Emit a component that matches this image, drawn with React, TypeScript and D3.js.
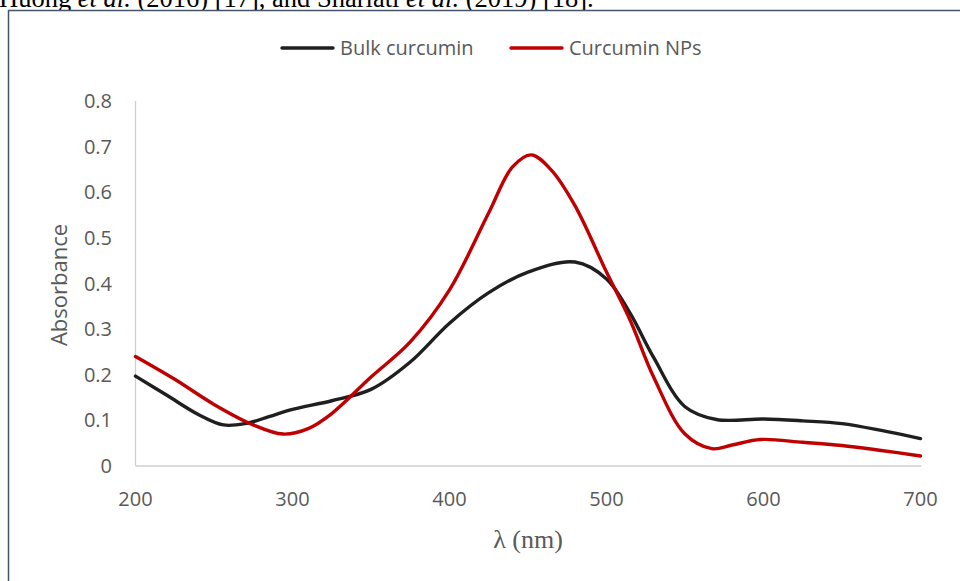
import React, { useEffect, useRef } from "react";
import * as d3 from "d3";

// wavelength (nm) / absorbance
const bulkNm = [200, 220, 240, 256, 270, 285, 300, 325, 350, 375, 400, 425, 450, 480, 500, 515, 530, 550, 570, 600, 625, 650, 675, 700];
const bulkAbs = [0.197, 0.155, 0.113, 0.09, 0.093, 0.108, 0.124, 0.143, 0.168, 0.228, 0.313, 0.38, 0.425, 0.447, 0.41, 0.335, 0.238, 0.13, 0.102, 0.103, 0.099, 0.093, 0.078, 0.06];

const npsNm = [200, 225, 250, 275, 294, 310, 325, 350, 375, 400, 425, 440, 452, 465, 480, 500, 515, 530, 550, 567, 580, 598, 625, 650, 675, 700];
const npsAbs = [0.24, 0.19, 0.135, 0.09, 0.07, 0.082, 0.115, 0.195, 0.272, 0.386, 0.555, 0.655, 0.682, 0.648, 0.57, 0.425, 0.32, 0.195, 0.07, 0.038, 0.046, 0.058, 0.052, 0.045, 0.034, 0.022];

const xTicks = [200, 300, 400, 500, 600, 700];
const yTicks = [0, 0.1, 0.2, 0.3, 0.4, 0.5, 0.6, 0.7, 0.8];

const seriesNames = ["Bulk curcumin", "Curcumin NPs"];
const seriesColors = ["#1f1f1f", "#c00000"];

const App = () => {
  const svgRef = useRef<SVGSVGElement>(null);

  useEffect(() => {
    const svg = d3.select(svgRef.current);
    svg.selectAll("*").remove();

    const x = d3.scaleLinear().domain([200, 700]).range([135.5, 920.5]);
    const y = d3.scaleLinear().domain([0, 0.8]).range([466, 101]);

    // caption line cut off above the figure
    svg.append("text")
      .attr("x", -1)
      .attr("y", 7)
      .attr("font-family", "Liberation Serif, serif")
      .attr("font-size", 26.5)
      .attr("fill", "#000")
      .html('Huong <tspan font-style="italic">et al.</tspan> (2016) [17], and Shariati <tspan font-style="italic">et al.</tspan> (2019) [18].');

    // frame
    svg.append("rect")
      .attr("x", 8.5)
      .attr("y", 10.5)
      .attr("width", 960)
      .attr("height", 600)
      .attr("fill", "#fff")
      .attr("stroke", "#44546a")
      .attr("stroke-width", 1.5);

    // axes lines
    const axisColor = "#d0d0d0";
    svg.append("line")
      .attr("x1", x(200)).attr("x2", x(200))
      .attr("y1", y(0.8)).attr("y2", y(0))
      .attr("stroke", axisColor).attr("stroke-width", 1.3);
    svg.append("line")
      .attr("x1", x(200)).attr("x2", x(700) + 1)
      .attr("y1", y(0)).attr("y2", y(0))
      .attr("stroke", axisColor).attr("stroke-width", 1.3);

    const labelFont = "Open Sans, sans-serif";
    const labelColor = "#595959";

    svg.append("g")
      .selectAll("text")
      .data(yTicks)
      .enter()
      .append("text")
      .attr("x", 112)
      .attr("y", (d) => y(d))
      .attr("dy", "0.35em")
      .attr("text-anchor", "end")
      .attr("font-family", labelFont)
      .attr("font-size", 20)
      .attr("fill", labelColor)
      .text((d) => (d === 0 ? "0" : d3.format(".1f")(d)));

    svg.append("g")
      .selectAll("text")
      .data(xTicks)
      .enter()
      .append("text")
      .attr("x", (d) => x(d))
      .attr("y", 499)
      .attr("dy", "0.35em")
      .attr("text-anchor", "middle")
      .attr("font-family", labelFont)
      .attr("font-size", 20)
      .attr("fill", labelColor)
      .text((d) => d);

    svg.append("text")
      .attr("transform", "translate(59,285) rotate(-90)")
      .attr("text-anchor", "middle")
      .attr("dy", "0.35em")
      .attr("font-family", labelFont)
      .attr("font-size", 22)
      .attr("fill", labelColor)
      .text("Absorbance");

    svg.append("text")
      .attr("x", 528)
      .attr("y", 539)
      .attr("dy", "0.35em")
      .attr("text-anchor", "middle")
      .attr("font-family", "Liberation Serif, serif")
      .attr("font-size", 26)
      .attr("fill", labelColor)
      .text("λ (nm)");

    const line = d3.line<[number, number]>()
      .x((d) => x(d[0]))
      .y((d) => y(d[1]))
      .curve(d3.curveCatmullRom.alpha(0.5));

    const series: [number, number][][] = [
      bulkNm.map((n, i) => [n, bulkAbs[i]]),
      npsNm.map((n, i) => [n, npsAbs[i]]),
    ];

    series.forEach((s, i) => {
      svg.append("path")
        .attr("d", line(s))
        .attr("fill", "none")
        .attr("stroke", seriesColors[i])
        .attr("stroke-width", 3.4)
        .attr("stroke-linecap", "round");
    });

    // legend
    const legendX = [282, 511];
    const legend = svg.selectAll(".legend")
      .data(seriesNames)
      .enter()
      .append("g")
      .attr("class", "legend")
      .attr("transform", (d, i) => `translate(${legendX[i]}, 48)`);

    legend.append("line")
      .attr("x1", 0).attr("x2", 51)
      .attr("y1", 0).attr("y2", 0)
      .attr("stroke", (d, i) => seriesColors[i])
      .attr("stroke-width", 3.4)
      .attr("stroke-linecap", "round");

    legend.append("text")
      .attr("x", 58)
      .attr("y", 0)
      .attr("dy", "0.35em")
      .attr("font-family", labelFont)
      .attr("font-size", 20)
      .attr("fill", labelColor)
      .text((d) => d);
  }, []);

  return (
    <div style={{ position: "absolute", left: 0, top: 0 }}>
      <svg ref={svgRef} width={960} height={581} style={{ display: "block" }}></svg>
    </div>
  );
};

export default App;
